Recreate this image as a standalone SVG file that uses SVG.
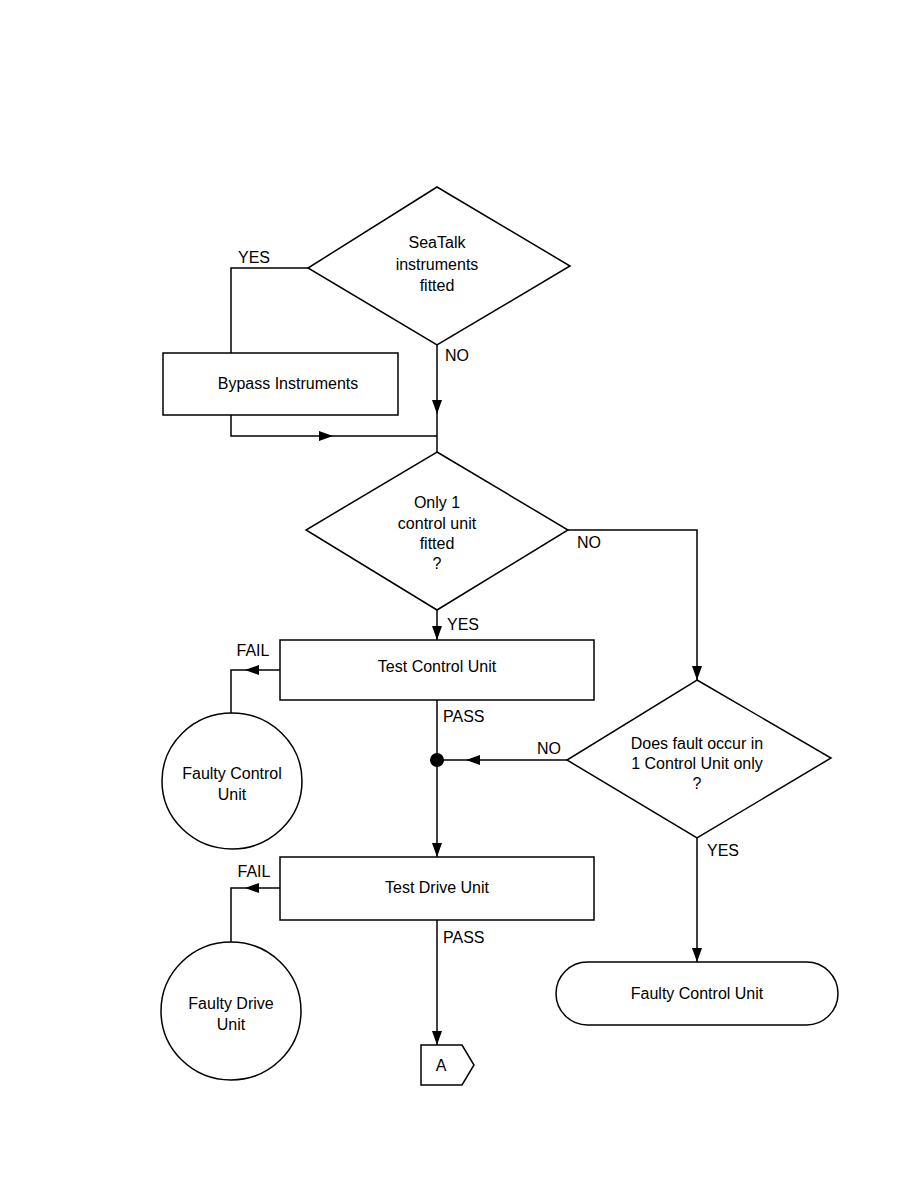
<svg xmlns="http://www.w3.org/2000/svg" width="918" height="1188" viewBox="0 0 918 1188">
<style>
.s{fill:#fff;stroke:#000;stroke-width:1.5}
.c{fill:none;stroke:#000;stroke-width:1.5}
text{font-family:"Liberation Sans Narrow","Liberation Sans",Arial,sans-serif;font-size:16px;fill:#000}
.m{text-anchor:middle}
</style>
<defs>
<marker id="ah" viewBox="0 0 14 10" refX="14" refY="5" markerWidth="14" markerHeight="10" markerUnits="userSpaceOnUse" orient="auto">
<path d="M0,0 L14,5 L0,10 Z" fill="#000"/>
</marker>
</defs>
<rect width="918" height="1188" fill="#fff"/>
<g id="connectors">
<path class="c" d="M308,268 H231 V353"/>
<path class="c" d="M231,415 V436 H333" marker-end="url(#ah)"/>
<path class="c" d="M333,436 H437"/>
<path class="c" d="M437,345 V414" marker-end="url(#ah)"/>
<path class="c" d="M437,414 V452"/>
<path class="c" d="M437,610 V640" marker-end="url(#ah)"/>
<path class="c" d="M568,530 H697 V680" marker-end="url(#ah)"/>
<path class="c" d="M280,670 H245" marker-end="url(#ah)"/>
<path class="c" d="M245,670 H231 V713"/>
<path class="c" d="M437,700 V857" marker-end="url(#ah)"/>
<path class="c" d="M567,760 H466" marker-end="url(#ah)"/>
<path class="c" d="M466,760 H437"/>
<circle cx="437" cy="760" r="7" fill="#000"/>
<path class="c" d="M697,838 V962" marker-end="url(#ah)"/>
<path class="c" d="M280,888 H245" marker-end="url(#ah)"/>
<path class="c" d="M245,888 H231 V942"/>
<path class="c" d="M437,920 V1045" marker-end="url(#ah)"/>
<text x="254" y="263" class="m">YES</text>
<text x="445" y="361">NO</text>
<text x="577" y="548">NO</text>
<text x="447" y="630">YES</text>
<text x="253" y="656" class="m">FAIL</text>
<text x="443" y="722">PASS</text>
<text x="549" y="754" class="m">NO</text>
<text x="707" y="856">YES</text>
<text x="254" y="877" class="m">FAIL</text>
<text x="443" y="943">PASS</text>
</g>
<g id="d1">
<polygon class="s" points="437,187 570,266 437,345 308,268"/>
<text x="437" y="248" class="m">SeaTalk</text>
<text x="437" y="270" class="m">instruments</text>
<text x="437" y="291" class="m">fitted</text>
</g>
<g id="bypass">
<rect class="s" x="163" y="353" width="235" height="62"/>
<text x="288" y="389" class="m">Bypass Instruments</text>
</g>
<g id="d2">
<polygon class="s" points="437,452 568,530 437,610 306,530"/>
<text x="437" y="508" class="m">Only 1</text>
<text x="437" y="529" class="m">control unit</text>
<text x="437" y="549" class="m">fitted</text>
<text x="437" y="569" class="m">?</text>
</g>
<g id="testcontrol">
<rect class="s" x="280" y="640" width="314" height="60"/>
<text x="437" y="672" class="m">Test Control Unit</text>
</g>
<g id="faultycontrol">
<ellipse class="s" cx="232" cy="781" rx="70" ry="68"/>
<text x="232" y="779" class="m">Faulty Control</text>
<text x="232" y="800" class="m">Unit</text>
</g>
<g id="d3">
<polygon class="s" points="697,680 831,758 697,838 567,760"/>
<text x="697" y="749" class="m">Does fault occur in</text>
<text x="697" y="769" class="m">1 Control Unit only</text>
<text x="697" y="789" class="m">?</text>
</g>
<g id="testdrive">
<rect class="s" x="280" y="857" width="314" height="63"/>
<text x="437" y="893" class="m">Test Drive Unit</text>
</g>
<g id="faultydrive">
<ellipse class="s" cx="231" cy="1011" rx="70" ry="69"/>
<text x="231" y="1009" class="m">Faulty Drive</text>
<text x="231" y="1030" class="m">Unit</text>
</g>
<g id="faultycontrol2">
<rect class="s" x="556" y="962" width="282" height="63" rx="31.5" ry="31.5"/>
<text x="697" y="999" class="m">Faulty Control Unit</text>
</g>
<g id="connA">
<polygon class="s" points="421,1045 462,1045 474,1065 462,1085 421,1085"/>
<text x="441" y="1071" class="m">A</text>
</g>
</svg>
